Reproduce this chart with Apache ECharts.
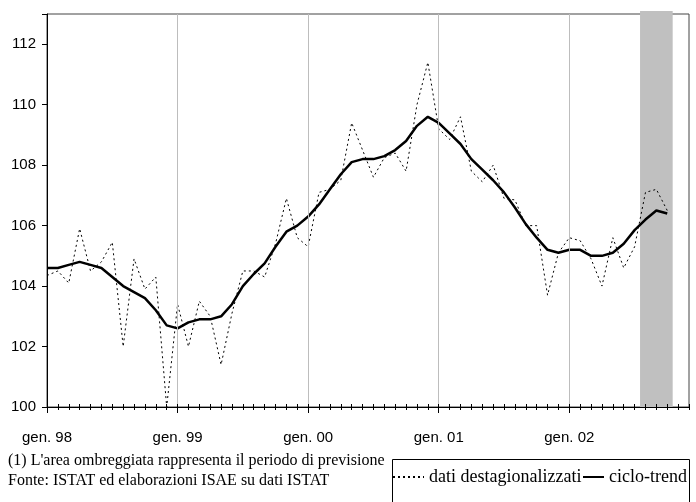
<!DOCTYPE html>
<html>
<head>
<meta charset="utf-8">
<script src="https://cdn.jsdelivr.net/npm/echarts@6/dist/echarts.min.js"></script>
<style>html,body{margin:0;padding:0;background:#fff}#c{width:696px;height:502px}</style>
</head>
<body>
<div id="c"></div>
<script>
// ---- data ----
const monthNames = ['gen','feb','mar','apr','mag','giu','lug','ago','set','ott','nov','dic'];
const yearLabels = ['98','99','00','01','02'];
const yTicks = [100, 102, 104, 106, 108, 110, 112];

// dati destagionalizzati (gen. 98 - ott. 02)
const destag = [
  104.35, 104.5, 104.1, 105.9, 104.5, 104.8, 105.45, 102.0, 104.9, 103.9, 104.3, 100.0,
  103.4, 102.0, 103.5, 103.0, 101.4, 103.1, 104.5, 104.5, 104.3, 105.4, 106.9, 105.6,
  105.3, 107.1, 107.2, 107.5, 109.4, 108.5, 107.6, 108.25, 108.4, 107.8, 110.0, 111.4,
  109.2, 108.85, 109.6, 107.8, 107.45, 108.0, 106.9, 106.85, 106.0, 106.0, 103.7, 105.1,
  105.6, 105.5, 104.9, 104.0, 105.6, 104.6, 105.3, 107.1, 107.2, 106.5
];
// ciclo-trend
const trend = [
  104.6, 104.6, 104.7, 104.8, 104.7, 104.6, 104.3, 104.0, 103.8, 103.6, 103.2, 102.7,
  102.6, 102.8, 102.9, 102.9, 103.0, 103.4, 104.0, 104.4, 104.75, 105.3, 105.8, 106.0,
  106.3, 106.7, 107.2, 107.7, 108.1, 108.2, 108.2, 108.3, 108.5, 108.8, 109.3, 109.6,
  109.4, 109.05, 108.7, 108.2, 107.85, 107.5, 107.1, 106.6, 106.05, 105.6, 105.2, 105.1,
  105.2, 105.2, 105.0, 105.0, 105.1, 105.4, 105.85, 106.2, 106.5, 106.4
];
// forecast period (shaded area)
const forecastMonths = ['ago. 02', 'set. 02', 'ott. 02'];

const categories = [];
yearLabels.forEach(y => monthNames.forEach(m => categories.push(m + '. ' + y)));

// ---- style ----
const Y_MIN = 100, Y_MAX = 113, SHADE_TOP = 113.1;
const sans = 'Liberation Sans, Arial, sans-serif';
const serif = 'Liberation Serif, Times New Roman, serif';
const fStart = categories.indexOf(forecastMonths[0]);
const fEnd = categories.indexOf(forecastMonths[forecastMonths.length - 1]);
const isJan = (i) => i % 12 === 0;

const baseX = {
  type: 'category', data: categories, boundaryGap: false, position: 'bottom', gridIndex: 0, z: 5
};
const legendText = {color: '#000', fontFamily: serif, fontSize: 18};
const legendNoSymbol = {color: 'transparent', opacity: 0, borderWidth: 0};

const chart = echarts.init(document.getElementById('c'), null, {renderer: 'canvas'});
chart.setOption({
  animation: false,
  backgroundColor: '#fff',
  grid: {left: 47, top: 14, width: 642, height: 393, show: true, borderColor: '#444', borderWidth: 1, backgroundColor: 'transparent'},
  xAxis: [
    Object.assign({}, baseX, {
      axisLine: {show: true, lineStyle: {color: '#000', width: 1}},
      axisTick: {show: true, inside: true, length: 3, interval: 0, lineStyle: {color: '#000'}},
      axisLabel: {interval: (i) => isJan(i), margin: 23, color: '#000', fontFamily: sans, fontSize: 15},
      splitLine: {show: true, interval: (i) => isJan(i) && i > 0, lineStyle: {color: '#bdbdbd', width: 1}}
    }),
    Object.assign({}, baseX, {
      axisLine: {show: false},
      axisTick: {show: true, inside: false, length: 3, interval: 0, lineStyle: {color: '#000'}},
      axisLabel: {show: false}, splitLine: {show: false}
    }),
    Object.assign({}, baseX, {
      axisLine: {show: false},
      axisTick: {show: true, inside: false, length: 6, interval: (i) => isJan(i), lineStyle: {color: '#000'}},
      axisLabel: {show: false}, splitLine: {show: false}
    })
  ],
  yAxis: {
    type: 'value', min: Y_MIN, max: Y_MAX, interval: 2,
    axisLine: {show: true, lineStyle: {color: '#000'}},
    axisTick: {show: true, inside: false, length: 5, lineStyle: {color: '#000'}},
    axisLabel: {margin: 11, color: '#000', fontFamily: sans, fontSize: 15,
      formatter: (v) => yTicks.indexOf(v) >= 0 ? String(v) : ''},
    splitLine: {show: false}, z: 5
  },
  legend: [
    {data: ['dati destagionalizzati'], left: 392, top: 468, padding: 0, itemWidth: 31, itemHeight: 14,
      itemStyle: legendNoSymbol, textStyle: legendText},
    {data: ['ciclo-trend'], left: 582, top: 468, padding: 0, itemWidth: 21, itemHeight: 14,
      itemStyle: legendNoSymbol, textStyle: legendText}
  ],
  graphic: [
    {type: 'rect', shape: {x: 392.5, y: 459.5, width: 297, height: 50}, style: {fill: 'none', stroke: '#000', lineWidth: 1}},
    {type: 'text', left: 8, top: 453, style: {text: "(1) L'area ombreggiata rappresenta il periodo di previsione", font: '16px ' + serif, fill: '#000'}},
    {type: 'text', left: 8, top: 473, style: {text: 'Fonte: ISTAT ed elaborazioni ISAE su dati ISTAT', font: '16px ' + serif, fill: '#000'}}
  ],
  series: [
    {name: 'previsione', type: 'custom', silent: true, z: 1, clip: false,
      data: [[fStart, fEnd]], encode: {x: [0, 1]},
      renderItem: function (params, api) {
        const s = api.coord([api.value(0), Y_MIN]);
        const e = api.coord([api.value(1), SHADE_TOP]);
        const half = api.size([1, 0])[0] / 2;
        return {type: 'rect', shape: {x: s[0] - half, y: e[1], width: e[0] - s[0] + 2 * half, height: s[1] - e[1]},
          style: {fill: '#c0c0c0'}};
      }},
    {name: 'dati destagionalizzati', type: 'line', data: destag, symbol: 'none', showSymbol: false,
      lineStyle: {color: '#000', width: 1, type: [2, 3]}, itemStyle: {color: '#000'}, z: 3},
    {name: 'ciclo-trend', type: 'line', data: trend, symbol: 'none', showSymbol: false,
      lineStyle: {color: '#000', width: 2.5}, itemStyle: {color: '#000'}, z: 4}
  ]
});
</script>
</body>
</html>
